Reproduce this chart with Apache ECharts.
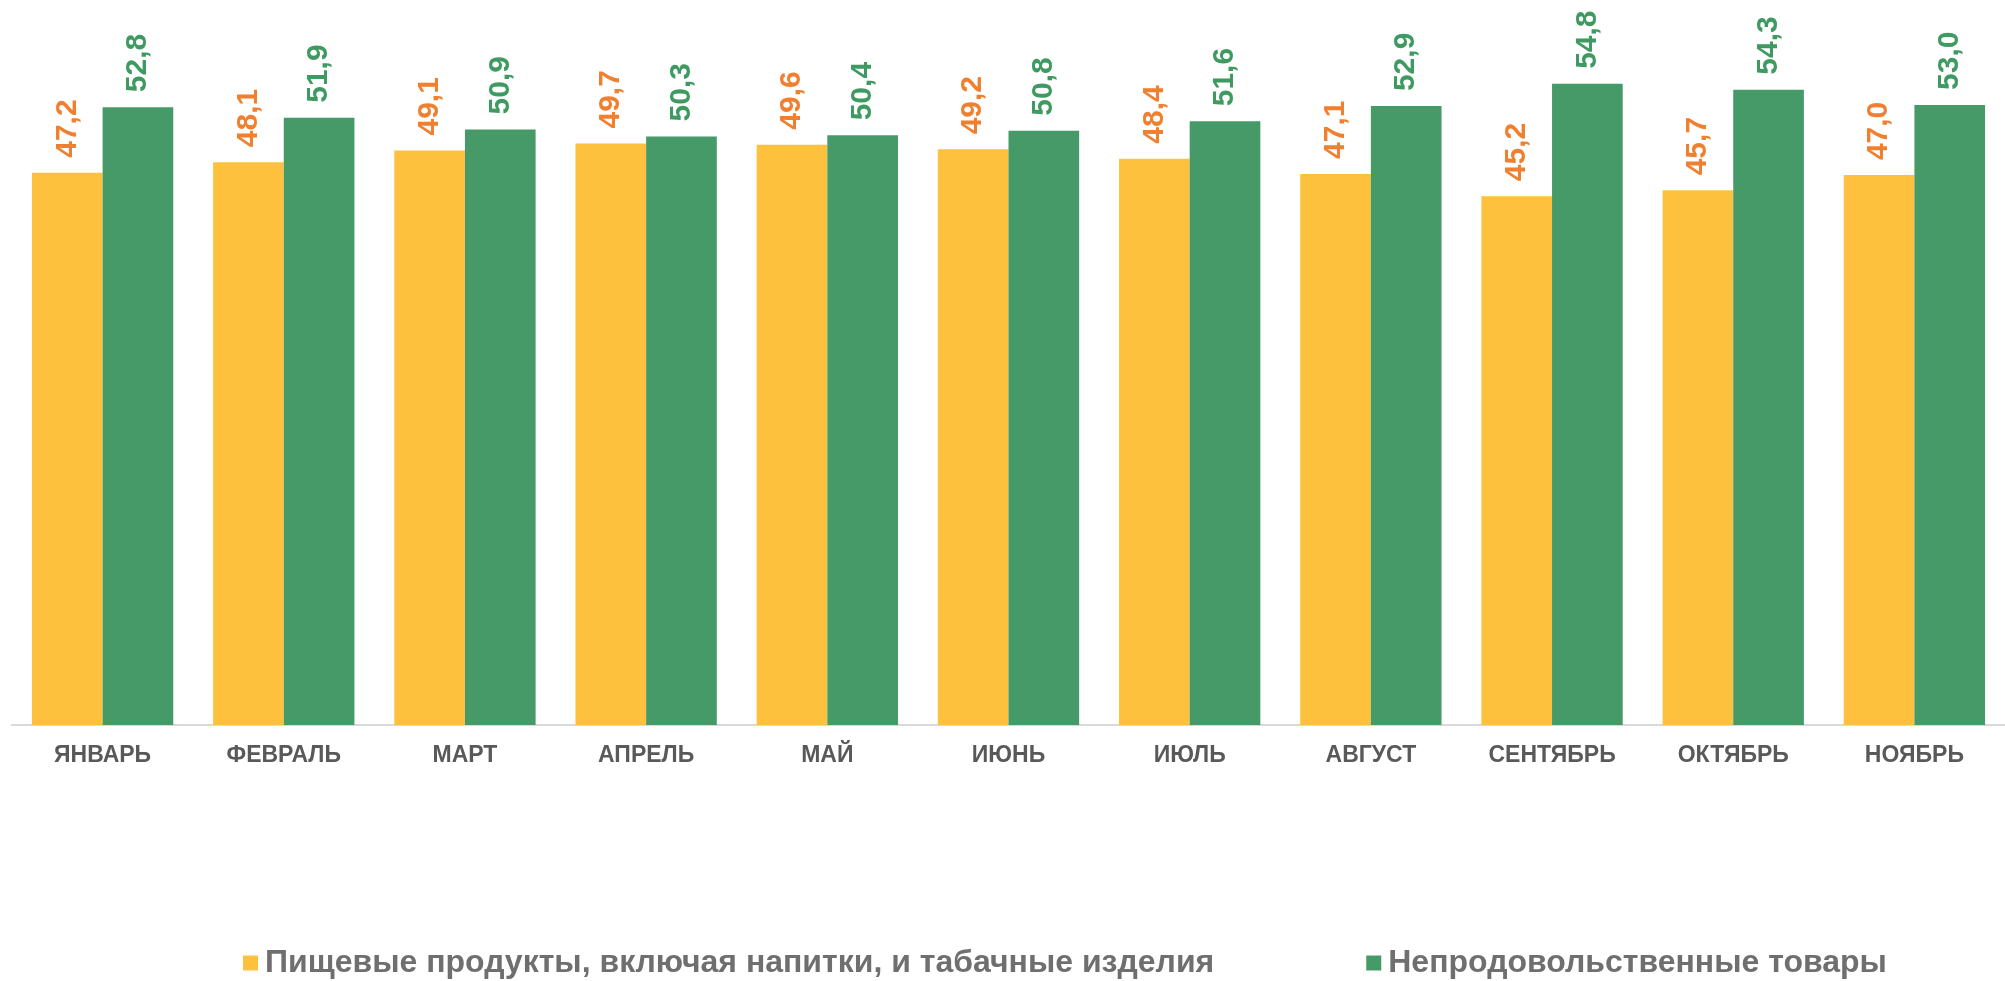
<!DOCTYPE html>
<html lang="ru">
<head>
  <meta charset="UTF-8">
  <title>Структура оборота розничной торговли</title>
  <script src="https://cdn.jsdelivr.net/npm/echarts@6/dist/echarts.min.js"></script>
  <style>
    html, body { margin: 0; padding: 0; background: #fff; }
    #chart { width: 2005px; height: 981px; }
  </style>
</head>
<body>
<div id="chart"></div>
<script>
  const months = ['ЯНВАРЬ', 'ФЕВРАЛЬ', 'МАРТ', 'АПРЕЛЬ', 'МАЙ', 'ИЮНЬ', 'ИЮЛЬ', 'АВГУСТ', 'СЕНТЯБРЬ', 'ОКТЯБРЬ', 'НОЯБРЬ'];
  const food = [47.2, 48.1, 49.1, 49.7, 49.6, 49.2, 48.4, 47.1, 45.2, 45.7, 47.0];
  const nonFood = [52.8, 51.9, 50.9, 50.3, 50.4, 50.8, 51.6, 52.9, 54.8, 54.3, 53.0];
  const seriesNames = ['Пищевые продукты, включая напитки, и табачные изделия', 'Непродовольственные товары'];

  const font = '"Liberation Sans", Arial, sans-serif';
  const fmt = p => p.value.toFixed(1).replace('.', ',');

  function valueLabel(color) {
    return {
      show: true,
      position: 'top',
      rotate: 90,
      align: 'left',
      verticalAlign: 'middle',
      distance: 15,
      color: color,
      fontFamily: font,
      fontWeight: 'bold',
      fontSize: 30,
      formatter: fmt
    };
  }

  const chart = echarts.init(document.getElementById('chart'));
  chart.setOption({
    animation: false,
    grid: { left: 12, right: -15, top: 23, bottom: 256 },
    legend: {
      bottom: -3,
      left: 238,
      itemWidth: 15,
      itemHeight: 15,
      itemGap: 152,
      icon: 'rect',
      textStyle: { color: '#6f6f6f', fontFamily: font, fontWeight: 'bold', fontSize: 32, padding: [0, 0, 0, 2] },
      data: seriesNames
    },
    xAxis: {
      type: 'category',
      data: months,
      axisTick: { show: false },
      axisLine: { lineStyle: { color: '#d9d9d9', width: 2 } },
      axisLabel: { color: '#595959', fontFamily: font, fontWeight: 'bold', fontSize: 23, margin: 19 }
    },
    yAxis: {
      type: 'value',
      min: 0,
      max: 60,
      show: false,
      splitLine: { show: false }
    },
    series: [
      {
        name: seriesNames[0],
        type: 'bar',
        data: food,
        barGap: '0%',
        barCategoryGap: '22%',
        itemStyle: { color: '#fec13e' },
        label: valueLabel('#f0802f')
      },
      {
        name: seriesNames[1],
        type: 'bar',
        data: nonFood,
        itemStyle: { color: '#459a68' },
        label: valueLabel('#3e9a60')
      }
    ]
  });
</script>
</body>
</html>
